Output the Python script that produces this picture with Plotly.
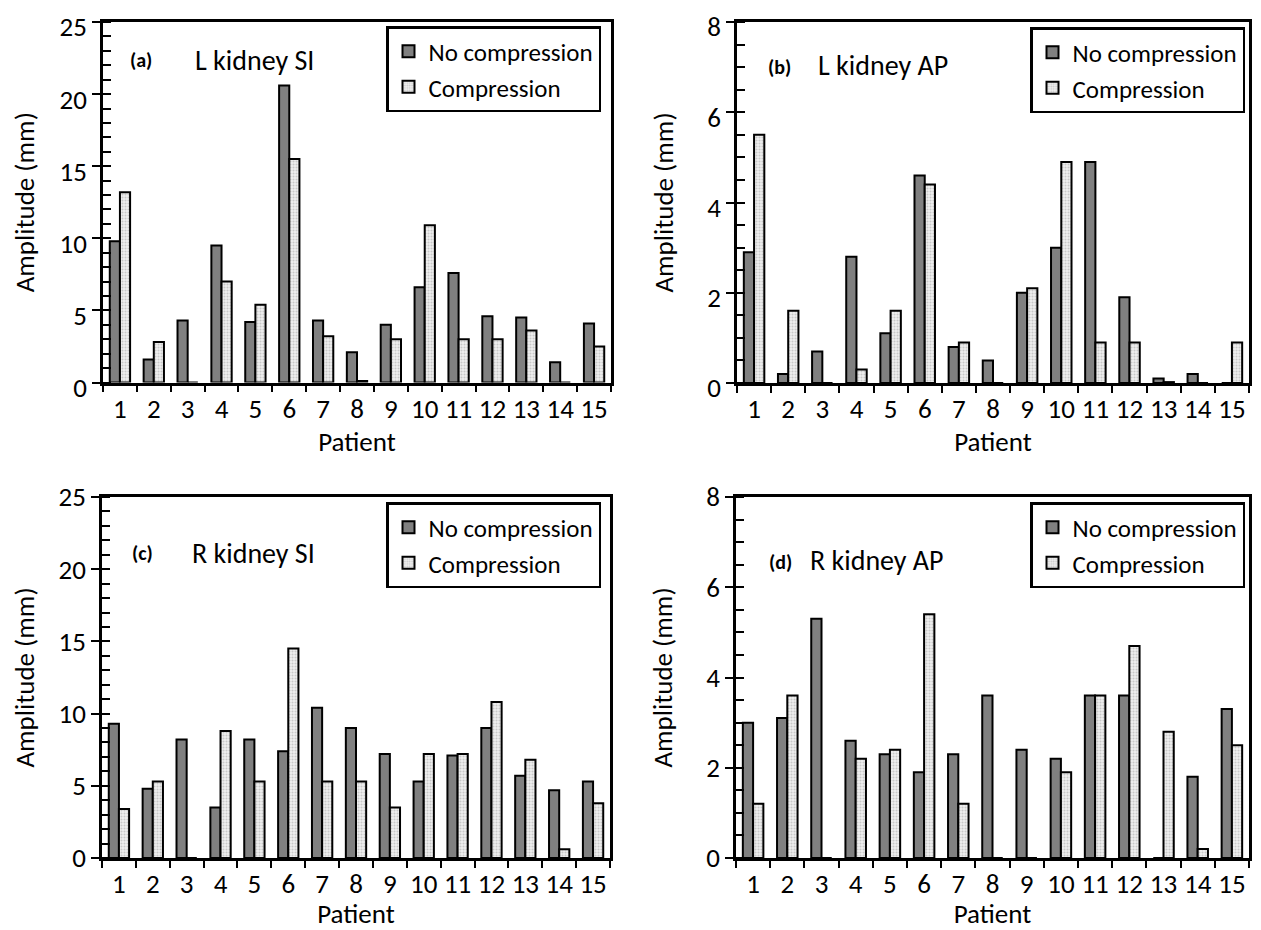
import plotly.graph_objects as go

# ---------------- data ----------------
patients = ["1", "2", "3", "4", "5", "6", "7", "8", "9", "10", "11", "12", "13", "14", "15"]

l_si_nocomp = [9.8, 1.6, 4.3, 9.5, 4.2, 20.6, 4.3, 2.1, 4.0, 6.6, 7.6, 4.6, 4.5, 1.4, 4.1]
l_si_comp   = [13.2, 2.8, 0.0, 7.0, 5.4, 15.5, 3.2, 0.1, 3.0, 10.9, 3.0, 3.0, 3.6, 0.0, 2.5]

l_ap_nocomp = [2.9, 0.2, 0.7, 2.8, 1.1, 4.6, 0.8, 0.5, 2.0, 3.0, 4.9, 1.9, 0.1, 0.2, 0.0]
l_ap_comp   = [5.5, 1.6, 0.0, 0.3, 1.6, 4.4, 0.9, 0.0, 2.1, 4.9, 0.9, 0.9, 0.02, 0.0, 0.9]

r_si_nocomp = [9.3, 4.8, 8.2, 3.5, 8.2, 7.4, 10.4, 9.0, 7.2, 5.3, 7.1, 9.0, 5.7, 4.7, 5.3]
r_si_comp   = [3.4, 5.3, 0.0, 8.8, 5.3, 14.5, 5.3, 5.3, 3.5, 7.2, 7.2, 10.8, 6.8, 0.6, 3.8]

r_ap_nocomp = [3.0, 3.1, 5.3, 2.6, 2.3, 1.9, 2.3, 3.6, 2.4, 2.2, 3.6, 3.6, 0.0, 1.8, 3.3]
r_ap_comp   = [1.2, 3.6, 0.0, 2.2, 2.4, 5.4, 1.2, 0.0, 0.0, 1.9, 3.6, 4.7, 2.8, 0.2, 2.5]

series_names = ["No compression", "Compression"]
panel_letters = ["(a)", "(b)", "(c)", "(d)"]
panel_titles = ["L kidney SI", "L kidney AP", "R kidney SI", "R kidney AP"]
y_ranges = [[0, 25], [0, 8], [0, 25], [0, 8]]
y_dticks = [5, 2, 5, 2]
y_minor = [1, 0.5, 1, 0.5]

# ---------------- geometry helpers ----------------
OFF = 8                      # page body margin
W, H = 1261 - OFF, 930 - OFF  # figure size


def px(x):
    return (x - OFF) / W


def py(y):
    return 1 - (y - OFF) / H


FONT = "Carlito, Lato, sans-serif"
FS = 27
LFS = 25

# plot-area pixel boxes in window coordinates: (left, right, top, bottom)
boxes = [(103, 611, 22, 382.5), (737, 1249, 22, 383), (102, 610, 497, 858), (736, 1249, 497, 858)]
label_shift = [5, 5, 0, 0]
# legend anchor: right edge, top edge (pixels)
legend_pos = [(601, 26), (1245, 27), (601, 502), (1245, 502)]
letter_pos = [(141, 60), (779, 67), (142, 553), (780, 562)]
title_pos = [(193, 60), (816, 66), (190, 553), (808, 560)]

data_sets = [
    (l_si_nocomp, l_si_comp),
    (l_ap_nocomp, l_ap_comp),
    (r_si_nocomp, r_si_comp),
    (r_ap_nocomp, r_ap_comp),
]

fig = go.Figure()

NC_COLOR = "#808080"
for i, (nc, c) in enumerate(data_sets):
    ax = "" if i == 0 else str(i + 1)
    leg = "legend" if i == 0 else "legend" + str(i + 1)
    fig.add_trace(go.Bar(
        x=patients, y=nc, name=series_names[0],
        xaxis="x" + ax, yaxis="y" + ax, legend=leg,
        marker=dict(color=NC_COLOR, line=dict(color="black", width=2)),
    ))
    fig.add_trace(go.Bar(
        x=patients, y=c, name=series_names[1],
        xaxis="x" + ax, yaxis="y" + ax, legend=leg,
        marker=dict(color="#ececec", line=dict(color="black", width=2),
                    pattern=dict(shape=".", fgcolor="#a0a0a0", bgcolor="#f0f0f0",
                                 size=3, solidity=0.4)),
    ))

layout = dict(
    width=W, height=H,
    margin=dict(l=0, r=0, t=0, b=0, autoexpand=False),
    paper_bgcolor="white", plot_bgcolor="white",
    barmode="group", bargap=0.4, bargroupgap=0.0,
    font=dict(family=FONT, size=FS, color="black"),
    annotations=[],
)

for i in range(4):
    ax = "" if i == 0 else str(i + 1)
    l, r, t, b = boxes[i]
    layout["xaxis" + ax] = dict(
        domain=[px(l), px(r)], anchor="y" + ax,
        type="category", tickson="boundaries", tickangle=0,
        showline=True, linecolor="black", linewidth=2.5, mirror=True,
        ticks="outside", ticklen=7, tickwidth=2, tickcolor="black",
        tickfont=dict(family=FONT, size=FS), ticklabeloverflow="allow",
        title=dict(text="Patient", font=dict(family=FONT, size=FS), standoff=4),
        showgrid=False, zeroline=False, automargin=False,
    )
    layout["yaxis" + ax] = dict(
        domain=[py(b), py(t)], anchor="x" + ax,
        range=y_ranges[i], dtick=y_dticks[i], tick0=0,
        showline=True, linecolor="black", linewidth=2.5, mirror=True,
        ticks="outside", ticklen=8, tickwidth=2, tickcolor="black",
        minor=dict(dtick=y_minor[i], ticks="inside", ticklen=8, tickwidth=2,
                   tickcolor="black", showgrid=False),
        tickfont=dict(family=FONT, size=FS), ticklabeloverflow="allow",
        ticklabelshift=label_shift[i],
        title=dict(text="Amplitude (mm)", font=dict(family=FONT, size=FS), standoff=26),
        showgrid=False, zeroline=False, automargin=False,
    )
    leg = "legend" if i == 0 else "legend" + str(i + 1)
    lx, ly = legend_pos[i]
    layout[leg] = dict(
        x=px(lx), y=py(ly), xanchor="right", yanchor="top",
        bgcolor="white", bordercolor="black", borderwidth=2.5,
        font=dict(family=FONT, size=LFS),
        itemwidth=30, tracegroupgap=0,
    )
    ax_, ay_ = letter_pos[i]
    layout["annotations"].append(dict(
        text="<b>" + panel_letters[i] + "</b>", xref="paper", yref="paper",
        x=px(ax_), y=py(ay_), xanchor="center", yanchor="middle",
        showarrow=False, font=dict(family=FONT, size=20, color="black"),
    ))
    tx, ty = title_pos[i]
    layout["annotations"].append(dict(
        text=panel_titles[i], xref="paper", yref="paper",
        x=px(tx), y=py(ty), xanchor="left", yanchor="middle",
        showarrow=False, font=dict(family=FONT, size=FS + 1, color="black"),
    ))

fig.update_layout(**layout)
fig.write_html("out.html")
